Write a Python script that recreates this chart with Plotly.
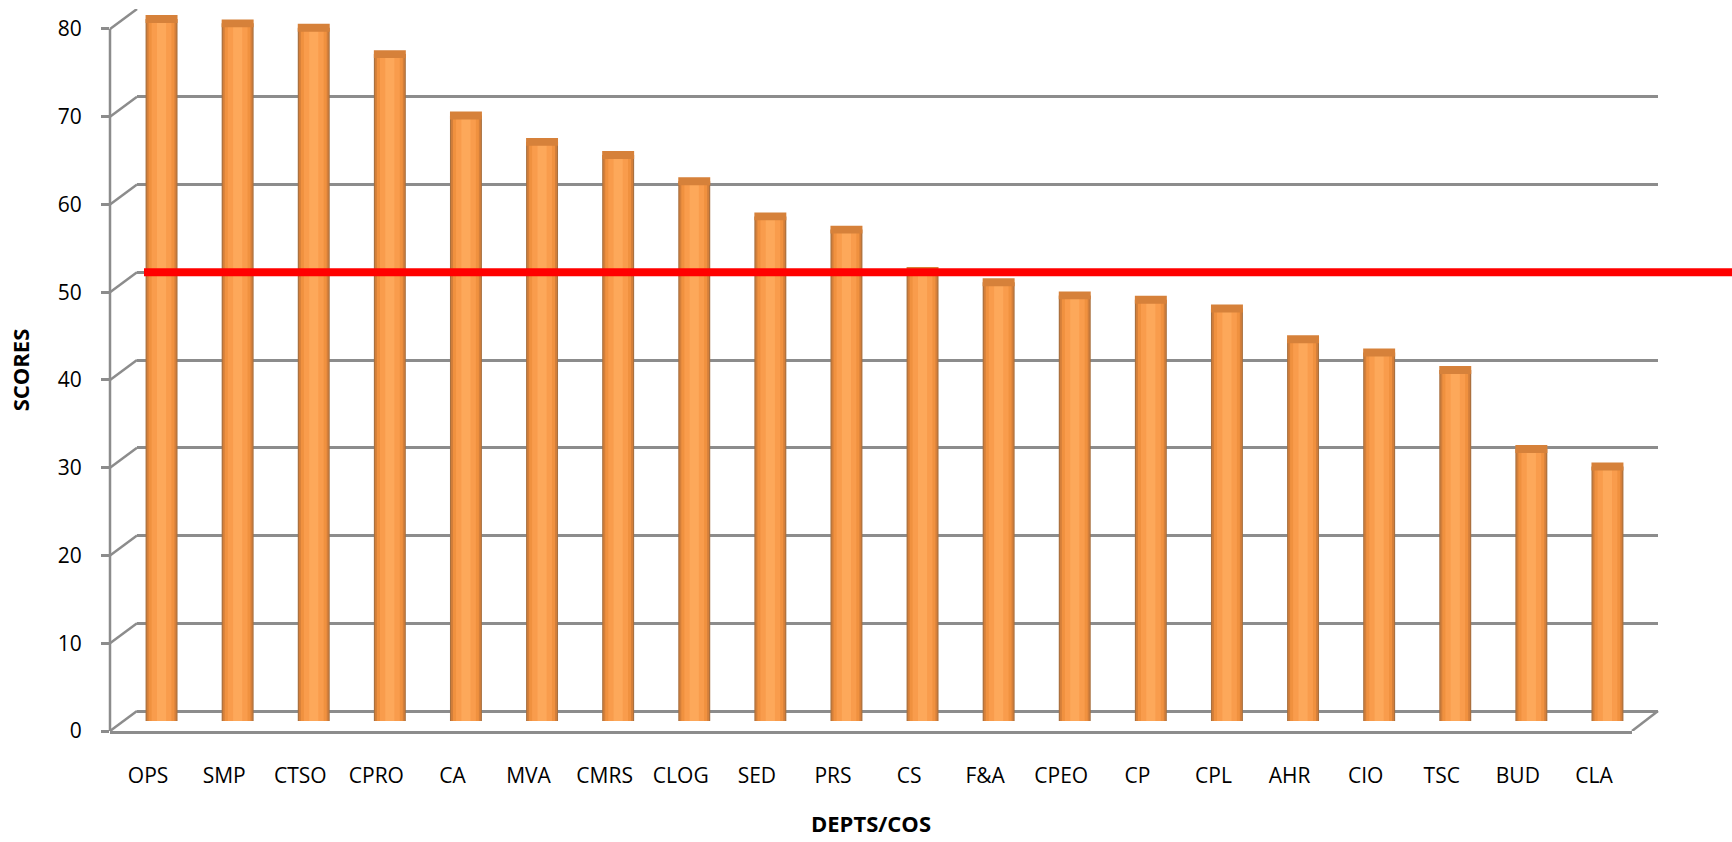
import plotly.graph_objects as go

# ---------------- data ----------------
categories = ["OPS", "SMP", "CTSO", "CPRO", "CA", "MVA", "CMRS", "CLOG", "SED", "PRS",
              "CS", "F&A", "CPEO", "CP", "CPL", "AHR", "CIO", "TSC", "BUD", "CLA"]
scores = [80, 79.5, 79, 76, 69, 66, 64.5, 61.5, 57.5, 56,
          51.3, 50, 48.5, 48, 47, 43.5, 42, 40, 31, 29]
threshold = 50
y_ticks = [0, 10, 20, 30, 40, 50, 60, 70, 80]
x_title = "DEPTS/COS"
y_title = "SCORES"

# ---------------- geometry / style ----------------
W, H = 1732, 842
ML, MR, MT, MB = 110, 74, 9, 109
PW = W - ML - MR          # 1548
PH = H - MT - MB          # 724
PX_PER_UNIT = 8.8
DEPTH_DX, DEPTH_DY = 27, 20       # back wall offset (px)
BAR_DX, BAR_DY = 13.5, 10         # bar depth offset (px)
FRONT_W = 1522

GRID = "#8C8C8C"
FONT = "Open Sans"

back_lo = -DEPTH_DY / PX_PER_UNIT
back_hi = back_lo + PH / PX_PER_UNIT
front_hi = PH / PX_PER_UNIT
bar_lo = -BAR_DY / PX_PER_UNIT
bar_hi = bar_lo + PH / PX_PER_UNIT

fig = go.Figure()

# invisible trace for the back-wall subplot
fig.add_trace(go.Scatter(x=[0], y=[0], xaxis="x", yaxis="y", mode="markers",
                         marker=dict(opacity=0), hoverinfo="skip", showlegend=False))
# invisible trace for front axis subplot
fig.add_trace(go.Scatter(x=categories, y=[0] * len(categories), xaxis="x2", yaxis="y2",
                         mode="markers", marker=dict(opacity=0), hoverinfo="skip",
                         showlegend=False))

# cylinder-like bars (layered shading)
layers = [(0.42, "#A9703F"), (0.39, "#D47F3A"), (0.34, "#F0913F"),
          (0.26, "#F99C4C"), (0.12, "#FDA85A")]
for w, c in layers:
    fig.add_trace(go.Bar(x=categories, y=scores, xaxis="x3", yaxis="y3", width=w,
                         marker=dict(color=c, line=dict(width=0)),
                         hoverinfo="x+y", showlegend=False))
# top caps
fig.add_trace(go.Bar(x=categories, y=[0.9] * len(scores), base=[s - 0.45 for s in scores],
                     xaxis="x3", yaxis="y3", width=0.42,
                     marker=dict(color="#D6813A", line=dict(width=0)),
                     hoverinfo="skip", showlegend=False))

shapes = []
# front vertical axis line
shapes.append(dict(type="line", xref="paper", yref="y2", x0=0, x1=0, y0=0, y1=y_ticks[-1],
                   line=dict(color=GRID, width=2.5)))
# slanted connectors front -> back wall
for v in y_ticks:
    shapes.append(dict(type="line", xref="paper", yref="y2",
                       x0=0, x1=DEPTH_DX / PW, y0=v, y1=v + DEPTH_DY / PX_PER_UNIT,
                       line=dict(color=GRID, width=2.5)))
# floor right edge
shapes.append(dict(type="line", xref="paper", yref="y2",
                   x0=FRONT_W / PW, x1=1.0, y0=0, y1=DEPTH_DY / PX_PER_UNIT,
                   line=dict(color=GRID, width=2.5)))
# red threshold line (on the back wall scale)
shapes.append(dict(type="line", xref="paper", yref="y",
                   x0=(144 - ML) / PW, x1=(W - ML) / PW, y0=threshold, y1=threshold,
                   line=dict(color="#FF0000", width=8), layer="above"))

fig.update_layout(
    width=W, height=H,
    margin=dict(l=ML, r=MR, t=MT, b=MB),
    paper_bgcolor="white", plot_bgcolor="rgba(0,0,0,0)",
    barmode="overlay",
    font=dict(family=FONT, size=21, color="black"),
    showlegend=False,
    shapes=shapes,
    # back wall
    xaxis=dict(domain=[DEPTH_DX / PW, 1], range=[0, 1], visible=False, anchor="y"),
    yaxis=dict(domain=[0, 1], range=[back_lo, back_hi], anchor="x",
               tickvals=y_ticks, showgrid=True, gridcolor=GRID, gridwidth=2.5,
               showticklabels=False, ticks="", zeroline=False, showline=False),
    # front axes
    xaxis2=dict(domain=[0, FRONT_W / PW], type="category", categoryarray=categories,
                range=[-0.5, len(categories) - 0.5], anchor="y2",
                showline=True, linecolor=GRID, linewidth=2.5, ticks="",
                showgrid=False, zeroline=False, ticklabelstandoff=24,
                tickfont=dict(family=FONT, size=21, color="black"),
                title=dict(text=x_title, standoff=29,
                           font=dict(family=FONT, size=22, color="black", weight="bold"))),
    yaxis2=dict(domain=[0, 1], range=[0, front_hi], anchor="x2",
                tickvals=y_ticks, ticks="outside", ticklen=8, tickwidth=2.5, tickcolor=GRID,
                showline=False, showgrid=False, zeroline=False, ticklabelstandoff=15,
                tickfont=dict(family=FONT, size=21, color="black"),
                title=dict(text=y_title, standoff=22,
                           font=dict(family=FONT, size=22, color="black", weight="bold"))),
    # bars
    xaxis3=dict(domain=[BAR_DX / PW, (FRONT_W + BAR_DX) / PW], type="category",
                categoryarray=categories, range=[-0.5, len(categories) - 0.5],
                visible=False, anchor="y3"),
    yaxis3=dict(domain=[0, 1], range=[bar_lo, bar_hi], visible=False, anchor="x3"),
)

fig.write_html("out.html", config={"displayModeBar": False},
               post_script="document.body.style.margin='0px';document.body.style.padding='0px';")
